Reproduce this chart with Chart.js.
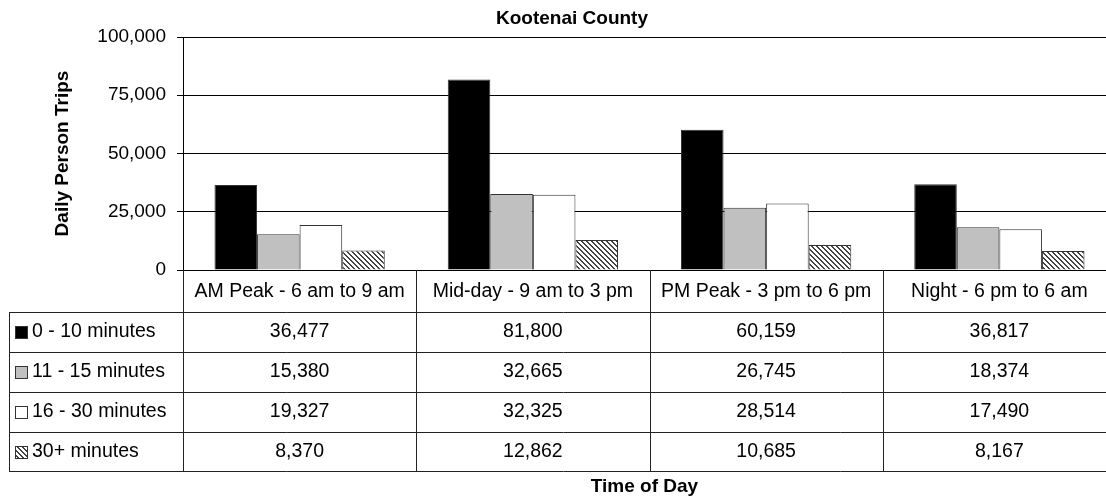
<!DOCTYPE html>
<html>
<head>
<meta charset="utf-8">
<title>Kootenai County - Daily Person Trips</title>
<script src="https://cdn.jsdelivr.net/npm/chart.js@4.4.1/dist/chart.umd.min.js"></script>
<style>
    html, body { margin: 0; padding: 0; overflow: hidden; background: #fff; }
    #js-chartjs-trips { display: block; width: 1118px; height: 502px; }
</style>
</head>
<body>
<canvas id="js-chartjs-trips" width="1118" height="502"></canvas>
<script>
// Chart data
const chartTitle = "Kootenai County";
const categories = ["AM Peak - 6 am to 9 am", "Mid-day - 9 am to 3 pm", "PM Peak - 3 pm to 6 pm", "Night - 6 pm to 6 am"];
const seriesNames = ["0 - 10 minutes", "11 - 15 minutes", "16 - 30 minutes", "30+ minutes"];
const trips0to10 = [36477, 81800, 60159, 36817];
const trips11to15 = [15380, 32665, 26745, 18374];
const trips16to30 = [19327, 32325, 28514, 17490];
const trips30plus = [8370, 12862, 10685, 8167];
const yMax = 100000;
const yStep = 25000;

const FONT = "'Liberation Sans', Arial, Helvetica, sans-serif";
const HEADER_H = 42;
const ROW_H = 40;
const TABLE_LEFT = 9;

// diagonal hatch used for the 30+ series
function makeHatch() {
    const tile = document.createElement("canvas");
    tile.width = 5;
    tile.height = 5;
    const c = tile.getContext("2d");
    c.fillStyle = "#fff";
    c.fillRect(0, 0, 5, 5);
    c.fillStyle = "#444";
    for (let i = 0; i < 5; i++) {
        c.fillRect(i, i, 1, 1);
        c.fillRect((i + 1) % 5, i, 1, 1);
    }
    return c.createPattern(tile, "repeat");
}

const fmt = (v) => v.toLocaleString("en-US");

// draws the title, data table and x axis title under the plot
const dataTablePlugin = {
    id: "dataTable",
    afterDraw(chart) {
        const ctx = chart.ctx;
        const area = chart.chartArea;
        const x = chart.scales.x;
        const catW = (area.right - area.left) / categories.length;
        const top = Math.round(area.bottom);
        const rowTops = [top + HEADER_H];
        for (let i = 1; i <= seriesNames.length; i++) rowTops.push(top + HEADER_H + i * ROW_H - (i === seriesNames.length ? 1 : 0));
        const bottom = rowTops[rowTops.length - 1];

        ctx.save();
        ctx.strokeStyle = "#222";
        ctx.lineWidth = 1;
        ctx.beginPath();
        // horizontal lines
        rowTops.forEach((y) => {
            ctx.moveTo(TABLE_LEFT, y + 0.5);
            ctx.lineTo(chart.width, y + 0.5);
        });
        // left edge of the legend column
        ctx.moveTo(TABLE_LEFT + 0.5, rowTops[0]);
        ctx.lineTo(TABLE_LEFT + 0.5, bottom + 1);
        // column separators
        for (let i = 0; i <= categories.length; i++) {
            const cx = Math.round(area.left + i * catW) + 0.5;
            ctx.moveTo(cx, top);
            ctx.lineTo(cx, bottom + 1);
        }
        ctx.stroke();

        ctx.fillStyle = "#000";
        ctx.textBaseline = "middle";
        ctx.textAlign = "center";
        ctx.font = "19.5px " + FONT;
        categories.forEach((label, i) => {
            ctx.fillText(label, x.getPixelForValue(i), top + HEADER_H / 2 + 1);
        });

        chart.data.datasets.forEach((ds, r) => {
            const cy = rowTops[r] + ROW_H / 2;
            ctx.textAlign = "center";
            ctx.fillStyle = "#000";
            ds.data.forEach((v, i) => {
                ctx.fillText(fmt(v), x.getPixelForValue(i), cy);
            });
            // legend key
            ctx.fillStyle = ds.backgroundColor;
            ctx.fillRect(15, Math.round(cy - 6), 12, 12);
            ctx.strokeStyle = "#333";
            ctx.strokeRect(15.5, Math.round(cy - 6) + 0.5, 12, 12);
            ctx.fillStyle = "#000";
            ctx.textAlign = "left";
            ctx.fillText(ds.label, 32, cy);
        });

        ctx.textAlign = "center";
        ctx.font = "bold 19px " + FONT;
        ctx.fillText("Time of Day", (area.left + 1106) / 2, 487);
        ctx.fillText(chartTitle, 572, 19);
        ctx.restore();
    }
};

document.addEventListener("DOMContentLoaded", function() {
    Chart.defaults.font.family = FONT;
    Chart.defaults.color = "#000";
    createTripsChart();
});

function createTripsChart() {
    const element = document.getElementById("js-chartjs-trips");
    if (!element) {
        console.error("Trips chart element not found!");
        return;
    }
    const hatch = makeHatch();
    const series = [trips0to10, trips11to15, trips16to30, trips30plus];
    const fills = ["#000000", "#c0c0c0", "#ffffff", hatch];

    new Chart(element, {
        type: "bar",
        data: {
            labels: categories,
            datasets: series.map((values, i) => ({
                label: seriesNames[i],
                data: values,
                backgroundColor: fills[i],
                borderColor: "#333",
                borderWidth: 1,
                categoryPercentage: 0.73,
                barPercentage: 1
            }))
        },
        options: {
            responsive: false,
            animation: false,
            devicePixelRatio: 1,
            layout: { padding: { left: 0, top: 37, right: 2, bottom: 232 } },
            scales: {
                x: { display: false },
                y: {
                    min: 0,
                    max: yMax,
                    ticks: {
                        stepSize: yStep,
                        padding: 11,
                        color: "#000",
                        font: { size: 19 },
                        callback: (v) => fmt(v)
                    },
                    grid: { color: "#000", lineWidth: 1, tickLength: 6 },
                    border: { color: "#000", width: 1 },
                    title: {
                        display: true,
                        text: "Daily Person Trips",
                        color: "#000",
                        font: { size: 19, weight: "bold" },
                        padding: { top: 51, bottom: 0 }
                    },
                    afterFit: (scale) => { scale.width = 183; }
                }
            },
            plugins: {
                legend: { display: false },
                title: { display: false },
                tooltip: { enabled: false }
            }
        },
        plugins: [dataTablePlugin]
    });
}
</script>
</body>
</html>
